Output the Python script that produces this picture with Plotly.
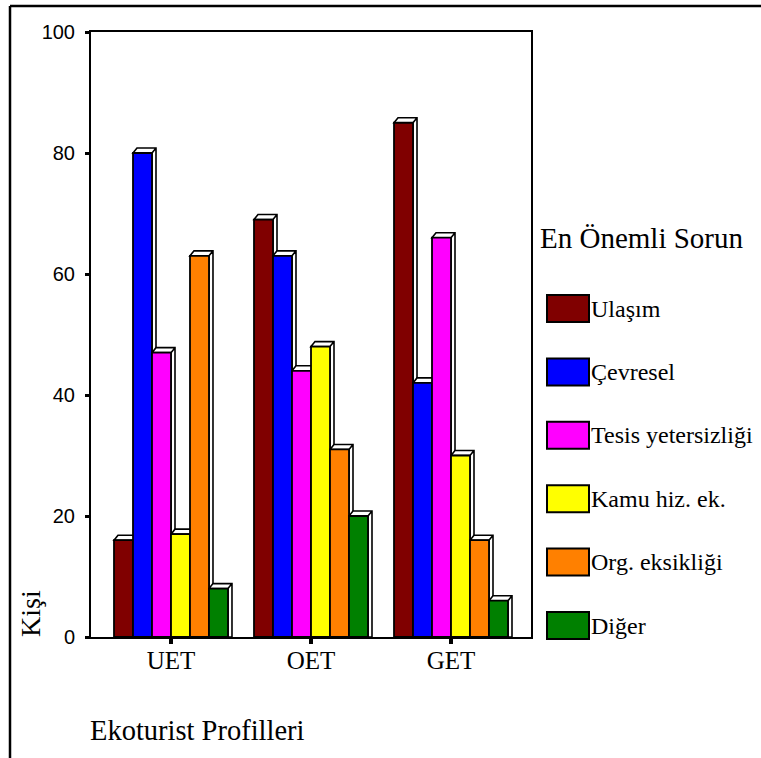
import plotly.graph_objects as go

# Categories (ekoturist profilleri) and problem groups
categories = ["UET", "OET", "GET"]
series_names = ["Ulaşım", "Çevresel", "Tesis yetersizliği", "Kamu hiz. ek.",
                "Org. eksikliği", "Diğer"]
ulasim = [16, 69, 85]
cevresel = [80, 63, 42]
tesis = [47, 44, 66]
kamu = [17, 48, 30]
org = [63, 31, 16]
diger = [8, 20, 6]
series_values = [ulasim, cevresel, tesis, kamu, org, diger]
colors = ["#800000", "#0000FF", "#FF00FF", "#FFFF00", "#FF8000", "#008000"]
y_ticks = [0, 20, 40, 60, 80, 100]

W, H = 761, 758
ML, MR, MT, MB = 91, 230, 32, 121
PW, PH = W - ML - MR, H - MT - MB
X_RANGE = [-0.5714, 2.5714]
Y_RANGE = [0, 100]

def px_x(p):
    return (p - ML) / PW

def px_y(p):
    return (H - MB - p) / PH

SERIF = "Liberation Serif, Times New Roman, serif"
SANS = "Liberation Sans, Arial, sans-serif"

bar_w = 0.1357
dx = 4 / (PW / (X_RANGE[1] - X_RANGE[0]))     # depth offset along x (4 px)
dy = 5 / (PH / (Y_RANGE[1] - Y_RANGE[0]))     # depth offset along y (5 px)
xpos = list(range(len(categories)))

fig = go.Figure()
shapes = []
n = len(series_names)
for i, (name, vals, col) in enumerate(zip(series_names, series_values, colors)):
    off = (i - n / 2) * bar_w
    fig.add_trace(go.Bar(
        x=xpos, y=vals, name=name, width=bar_w, offset=off,
        marker=dict(color=col, line=dict(color="black", width=1.8)),
        showlegend=False,
    ))
    # 3D top and side faces behind each bar
    for xc, v in zip(xpos, vals):
        L = xc + off
        R = L + bar_w
        path = (f"M {L},{v} L {L+dx},{v+dy} L {R+dx},{v+dy} L {R+dx},0 "
                f"L {R},0 L {R},{v} Z M {R},{v} L {R+dx},{v+dy}")
        shapes.append(dict(type="path", path=path, xref="x", yref="y",
                           fillcolor="white", line=dict(color="black", width=1.6),
                           layer="below"))

# Outer frame (top and left edges)
shapes.append(dict(type="line", xref="paper", yref="paper",
                   x0=px_x(10), x1=px_x(761), y0=px_y(6), y1=px_y(6),
                   line=dict(color="black", width=2.5)))
shapes.append(dict(type="line", xref="paper", yref="paper",
                   x0=px_x(10), x1=px_x(10), y0=px_y(6), y1=px_y(758),
                   line=dict(color="black", width=2.5)))

annotations = []
# Legend drawn as swatches with labels
leg_top0, leg_step, sw_h = 295, 63.4, 27
for i, (name, col) in enumerate(zip(series_names, colors)):
    top = leg_top0 + i * leg_step
    shapes.append(dict(type="rect", xref="paper", yref="paper",
                       x0=px_x(547), x1=px_x(589), y0=px_y(top + sw_h), y1=px_y(top),
                       fillcolor=col, line=dict(color="black", width=2)))
    annotations.append(dict(text=name, xref="paper", yref="paper",
                            x=px_x(589), y=px_y(top + sw_h / 2),
                            xanchor="left", yanchor="middle", showarrow=False,
                            font=dict(family=SERIF, size=24, color="black")))
annotations.append(dict(text="En Önemli Sorun", xref="paper", yref="paper",
                        x=px_x(538), y=px_y(238), xanchor="left", yanchor="middle",
                        showarrow=False,
                        font=dict(family=SERIF, size=29, color="black")))
# Axis titles
annotations.append(dict(text="Kişi", xref="paper", yref="paper",
                        x=px_x(30), y=px_y(614), textangle=-90,
                        xanchor="center", yanchor="middle", showarrow=False,
                        font=dict(family=SERIF, size=28, color="black")))
annotations.append(dict(text="Ekoturist Profilleri", xref="paper", yref="paper",
                        x=px_x(88), y=px_y(730), xanchor="left", yanchor="middle",
                        showarrow=False,
                        font=dict(family=SERIF, size=28.5, color="black")))

fig.update_layout(
    width=W, height=H,
    margin=dict(l=ML, r=MR, t=MT, b=MB, pad=0),
    paper_bgcolor="white", plot_bgcolor="white",
    barmode="overlay",
    shapes=shapes, annotations=annotations,
    showlegend=False,
)
fig.update_xaxes(
    range=X_RANGE, tickvals=xpos, ticktext=categories,
    showline=True, linecolor="black", linewidth=2, mirror=True,
    ticks="outside", ticklen=5, tickwidth=4, tickcolor="black",
    showgrid=False, zeroline=False, ticklabelstandoff=-5,
    tickfont=dict(family=SERIF, size=25, color="black"),
)
fig.update_yaxes(
    range=Y_RANGE, tickvals=y_ticks,
    showline=True, linecolor="black", linewidth=2, mirror=True,
    ticks="outside", ticklen=4, tickwidth=3, tickcolor="black",
    showgrid=False, zeroline=False, ticklabelstandoff=6,
    tickfont=dict(family=SANS, size=20, color="black"),
)

fig.write_html("out.html")
